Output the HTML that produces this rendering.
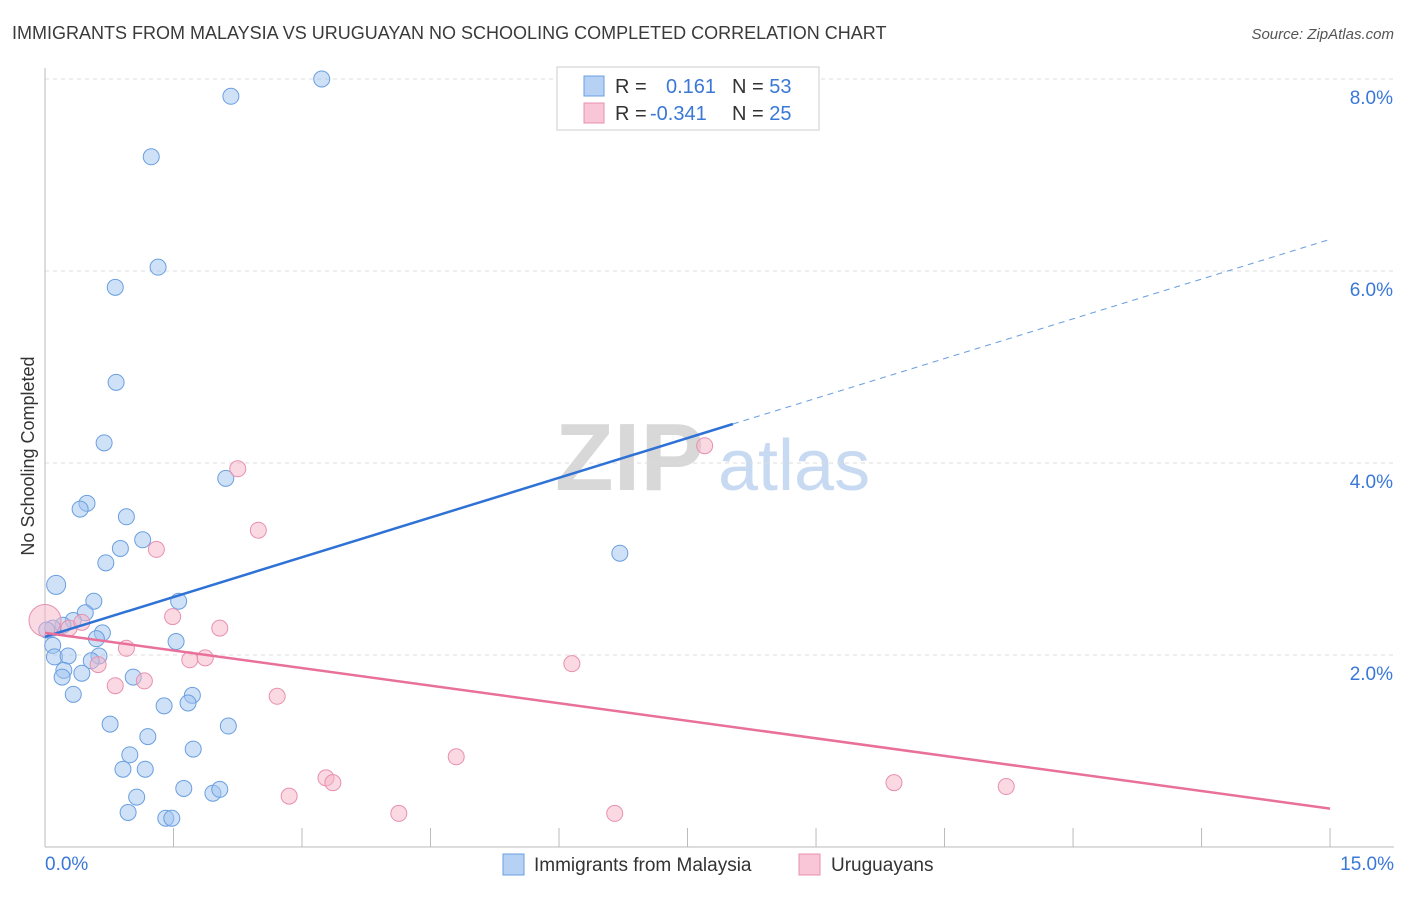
<!DOCTYPE html>
<html><head><meta charset="utf-8"><style>
body{margin:0;background:#fff;font-family:"Liberation Sans",sans-serif;}
svg text{font-family:"Liberation Sans",sans-serif;}
</style></head><body>
<svg id="chart" width="1406" height="892" xmlns="http://www.w3.org/2000/svg">
<text x="12" y="39" font-size="18" fill="#3a3a3a">IMMIGRANTS FROM MALAYSIA VS URUGUAYAN NO SCHOOLING COMPLETED CORRELATION CHART</text>
<text x="1394" y="39" font-size="15" fill="#555" text-anchor="end" font-style="italic">Source: ZipAtlas.com</text>
<g>
<text x="555" y="490" font-size="96" font-family="Liberation Serif" fill="#d8d8d8" font-weight="bold">ZIP</text>
<text x="718" y="490" font-size="72" fill="#c8daf2">atlas</text>
</g>
<g id="grid"></g><g id="axes"></g><g id="marks"></g>
<text transform="translate(34,456) rotate(-90)" font-size="18" fill="#333" text-anchor="middle">No Schooling Completed</text>
<g>
<rect x="557" y="67" width="262" height="63" fill="#fff" stroke="#ccc"/>
<rect x="584" y="76" width="20" height="20" fill="#b6d1f3" stroke="#6a9fe0"/>
<rect x="584" y="103" width="20" height="20" fill="#f8c6d6" stroke="#e890b0"/>
<text x="615" y="93" font-size="20" fill="#333">R = <tspan fill="#3a78d8" x="666">0.161</tspan><tspan fill="#333" x="732">N = </tspan><tspan fill="#3a78d8">53</tspan></text>
<text x="615" y="120" font-size="20" fill="#333">R = <tspan fill="#3a78d8" x="650">-0.341</tspan><tspan fill="#333" x="732">N = </tspan><tspan fill="#3a78d8">25</tspan></text>
</g>
<g>
<rect x="503" y="854" width="21" height="21" fill="#b6d1f3" stroke="#6a9fe0"/>
<text x="534" y="871" font-size="19" fill="#333">Immigrants from Malaysia</text>
<rect x="799" y="854" width="21" height="21" fill="#f8c6d6" stroke="#e890b0"/>
<text x="831" y="871" font-size="19" fill="#333">Uruguayans</text>
</g>
</svg>
<script>
const blueX=[3.23,2.17,1.24,1.32,0.82,0.83,0.69,2.11,0.49,0.41,0.95,1.14,0.88,0.71,0.13,0.57,1.56,0.47,0.33,0.21,0.67,0.60,0.09,1.53,0.09,0.11,0.27,0.63,0.54,0.22,0.43,0.20,1.03,1.72,0.33,1.39,1.67,0.76,2.14,1.20,0.99,1.73,0.91,1.17,6.71,1.62,1.96,2.04,1.07,0.97,1.41,1.48,0.02];
const blueY=[8.0,7.82,7.19,6.04,5.83,4.84,4.21,3.84,3.58,3.52,3.44,3.20,3.11,2.96,2.73,2.56,2.56,2.44,2.36,2.31,2.23,2.17,2.28,2.14,2.10,1.98,1.99,1.99,1.94,1.84,1.81,1.77,1.77,1.58,1.59,1.47,1.50,1.28,1.26,1.15,0.96,1.02,0.81,0.81,3.06,0.61,0.56,0.60,0.52,0.36,0.30,0.30,2.26];
const pinkX=[0.0,0.28,0.43,0.62,0.82,0.95,1.16,1.30,1.49,1.69,1.87,2.04,2.25,2.49,2.71,2.85,3.28,3.36,4.13,4.80,6.15,6.65,7.70,9.91,11.22];
const pinkY=[2.36,2.28,2.34,1.90,1.68,2.07,1.73,3.10,2.40,1.95,1.97,2.28,3.94,3.30,1.57,0.53,0.72,0.67,0.35,0.94,1.91,0.35,4.18,0.67,0.63];
const blueTrend=[2.19,0.276];
const blueSolidEnd=8.03;
const pinkTrend=[2.23,-0.122];
const yTicks=[2,4,6,8];
const yTickLabels=["2.0%","4.0%","6.0%","8.0%"];
const xTicks=[0,1.5,3,4.5,6,7.5,9,10.5,12,13.5,15];
const xLabels=["0.0%","15.0%"];
const NS="http://www.w3.org/2000/svg";
const X=v=>45+v*85.67, Y=v=>847-v*96;
function mk(p,t,a){const e=document.createElementNS(NS,t);for(const k in a)e.setAttribute(k,a[k]);document.getElementById(p).appendChild(e);return e;}
yTicks.forEach((t,i)=>{
 const l=mk('grid','line',{x1:45,x2:1394,y1:Y(t),y2:Y(t),stroke:'#ddd','stroke-dasharray':'4,4'});
 
 
 const tx=mk('grid','text',{x:1393,y:Y(t)+25,'font-size':19,fill:'#3a78d8','text-anchor':'end'});tx.textContent=yTickLabels[i];
 
 
});
const tl=mk('grid','line',{x1:45,x2:1394,y1:79,y2:79,stroke:'#ddd','stroke-dasharray':'4,4'});


const ya=mk('axes','line',{x1:45,x2:45,y1:68,y2:847,stroke:'#bbb'});


const xa=mk('axes','line',{x1:45,x2:1394,y1:847,y2:847,stroke:'#bbb'});


xTicks.forEach(t=>{const l=mk('axes','line',{x1:X(t),x2:X(t),y1:828,y2:847,stroke:'#bbb'});
 
 });
[[0,'start'],[15,'end']].forEach((d,i)=>{const t=mk('axes','text',{x:i?1394:45,y:870,'font-size':19,fill:'#3a78d8','text-anchor':d[1]});t.textContent=xLabels[i];
 
 });
blueX.forEach((x,i)=>{const c=mk('marks','circle',{cx:X(x),cy:Y(blueY[i]),r:i==14?9.5:8,fill:'rgba(160,196,240,0.5)',stroke:'#6a9fe0','stroke-width':1});
 
 });
pinkX.forEach((x,i)=>{const c=mk('marks','circle',{cx:X(x),cy:Y(pinkY[i]),r:i==0?16:8,fill:'rgba(245,180,200,0.5)',stroke:'#e890b0','stroke-width':1});
 
 });
const b1=mk('marks','line',{x1:X(0),y1:Y(blueTrend[0]),x2:X(blueSolidEnd),y2:Y(blueTrend[0]+blueTrend[1]*blueSolidEnd),stroke:'#2f72d6','stroke-width':2.5});


const b2=mk('marks','line',{x1:X(blueSolidEnd),y1:Y(blueTrend[0]+blueTrend[1]*blueSolidEnd),x2:X(15),y2:Y(blueTrend[0]+blueTrend[1]*15),stroke:'#6a9fe0','stroke-width':1,'stroke-dasharray':'6,5'});


const p1=mk('marks','line',{x1:X(0),y1:Y(pinkTrend[0]),x2:X(15),y2:Y(pinkTrend[0]+pinkTrend[1]*15),stroke:'#e8709a','stroke-width':2.5});


</script>
</body></html>
